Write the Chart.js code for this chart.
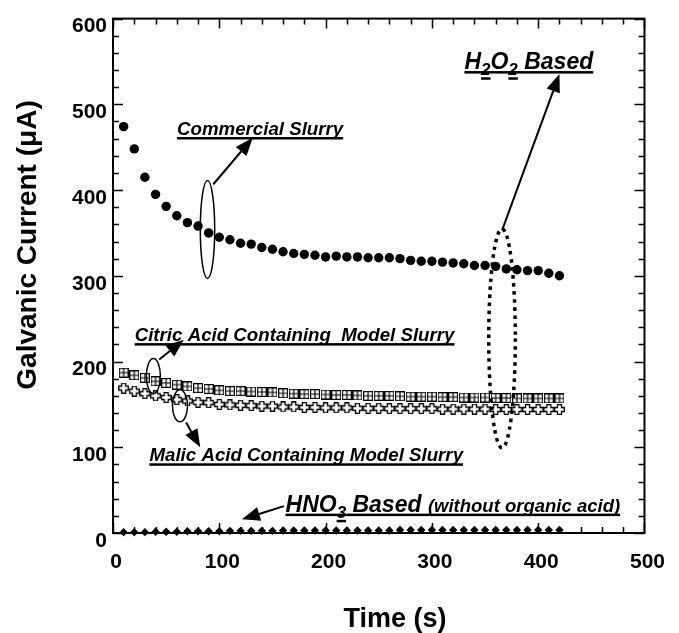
<!DOCTYPE html>
<html>
<head>
<meta charset="utf-8">
<script src="https://cdn.jsdelivr.net/npm/chart.js@4.4.1/dist/chart.umd.min.js"></script>
<style>
  html, body { margin: 0; padding: 0; background: #fff; }
</style>
</head>
<body>
<canvas id="galvanicChart" width="679" height="633"></canvas>
<script>
// time (s) of each reading
var times = [10, 20, 30, 40, 50, 60, 70, 80, 90, 100,
             110, 120, 130, 140, 150, 160, 170, 180, 190, 200,
             210, 220, 230, 240, 250, 260, 270, 280, 290, 300,
             310, 320, 330, 340, 350, 360, 370, 380, 390, 400,
             410, 420];

// galvanic current (uA)
var commercial = [474, 448, 415, 395, 381, 370, 362, 358, 350, 345,
                  342, 338, 337, 333, 331, 328, 326, 325, 324, 322,
                  323, 322, 322, 321, 321, 321, 320, 318, 317, 317,
                  316, 315, 314, 312, 312, 311, 308, 307, 306, 306,
                  303, 300];
var citric = [187, 184, 181, 177, 175, 173, 171, 169, 168, 166.5,
              165.5, 165.5, 165, 164.5, 164, 163, 162.5, 162, 162, 161.5,
              161, 161, 160.5, 160, 160, 160, 159.5, 159, 159, 159,
              158.5, 158.5, 158, 158, 158, 157.5, 157.5, 157, 157, 157,
              157, 157];
var malic = [169, 165.5, 162.5, 160, 158, 155.5, 154, 152.5, 152, 150,
             149.5, 149, 148.5, 148, 148, 147, 147, 146.5, 146.5, 146,
             146, 146, 145.5, 145.5, 145.5, 145, 145, 145, 145, 145,
             144.5, 144.5, 144.5, 144.5, 144.5, 144, 144, 144, 144, 144,
             144, 144];
var hno3 = [1, 1, 1, 1.5, 1.5, 1.5, 2, 2, 2, 2,
            2.5, 2.5, 2.5, 2.5, 2.5, 3, 3, 3, 3, 3,
            3, 3, 3, 3, 3, 3, 3.5, 3.5, 3.5, 3.5,
            3.5, 3.5, 3.5, 3.5, 3.5, 3.5, 3.5, 3.5, 3.5, 3.5,
            3.5, 3.5];

var xTicks = [0, 100, 200, 300, 400, 500];
var yTicks = [0, 100, 200, 300, 400, 500, 600];

var FONT = '"Liberation Sans", Arial, Helvetica, sans-serif';

function toPoints(ys) {
    return times.map(function (t, i) { return { x: t, y: ys[i] }; });
}

// square with a cross inside (citric acid)
function gridSquare() {
    var c = document.createElement('canvas');
    c.width = 10; c.height = 10;
    var g = c.getContext('2d');
    g.fillStyle = '#fff';
    g.fillRect(0, 0, 10, 10);
    g.strokeStyle = '#000';
    g.lineWidth = 1.2;
    g.strokeRect(0.6, 0.6, 8.8, 8.8);
    g.beginPath();
    g.moveTo(5, 0.6); g.lineTo(5, 9.4);
    g.moveTo(0.6, 5); g.lineTo(9.4, 5);
    g.stroke();
    return c;
}

// open plus sign (malic acid)
function openCross() {
    var c = document.createElement('canvas');
    c.width = 11; c.height = 11;
    var g = c.getContext('2d');
    g.beginPath();
    g.moveTo(3.5, 0.7); g.lineTo(7.5, 0.7); g.lineTo(7.5, 3.5); g.lineTo(10.3, 3.5);
    g.lineTo(10.3, 7.5); g.lineTo(7.5, 7.5); g.lineTo(7.5, 10.3); g.lineTo(3.5, 10.3);
    g.lineTo(3.5, 7.5); g.lineTo(0.7, 7.5); g.lineTo(0.7, 3.5); g.lineTo(3.5, 3.5);
    g.closePath();
    g.fillStyle = '#fff';
    g.fill();
    g.strokeStyle = '#000';
    g.lineWidth = 1.3;
    g.stroke();
    return c;
}

// text made of parts: [text, size, baseline shift]
function drawNote(ctx, x, y, parts) {
    ctx.save();
    ctx.fillStyle = '#000';
    ctx.textBaseline = 'alphabetic';
    ctx.textAlign = 'left';
    var cx = x;
    parts.forEach(function (p) {
        ctx.font = 'italic bold ' + p[1] + 'px ' + FONT;
        var w = ctx.measureText(p[0]).width;
        var dy = p[2] || 0;
        ctx.fillText(p[0], cx, y + dy);
        if (dy) {
            ctx.fillRect(cx, y + dy + 2, w, 2.5);
        }
        cx += w;
    });
    ctx.fillRect(x, y + 1.8, cx - x, 2.5);
    ctx.restore();
}

function arrow(ctx, x1, y1, x2, y2) {
    var a = Math.atan2(y2 - y1, x2 - x1);
    var len = 18, half = 7;
    var bx = x2 - len * Math.cos(a), by = y2 - len * Math.sin(a);
    ctx.save();
    ctx.strokeStyle = '#000';
    ctx.fillStyle = '#000';
    ctx.lineWidth = 2;
    ctx.beginPath();
    ctx.moveTo(x1, y1);
    ctx.lineTo(bx, by);
    ctx.stroke();
    ctx.beginPath();
    ctx.moveTo(x2, y2);
    ctx.lineTo(bx - half * Math.sin(a), by + half * Math.cos(a));
    ctx.lineTo(bx + half * Math.sin(a), by - half * Math.cos(a));
    ctx.closePath();
    ctx.fill();
    ctx.restore();
}

function ring(ctx, x, y, rx, ry, dotted) {
    ctx.save();
    ctx.strokeStyle = '#000';
    ctx.beginPath();
    ctx.ellipse(x, y, rx, ry, 0, 0, Math.PI * 2);
    if (dotted) {
        ctx.lineWidth = 3.5;
        ctx.setLineDash([3.5, 4.5]);
    } else {
        ctx.lineWidth = 1.5;
    }
    ctx.stroke();
    ctx.restore();
}

var framePlugin = {
    id: 'frame',
    afterDraw: function (chart) {
        var ctx = chart.ctx;
        var area = chart.chartArea;
        var sx = chart.scales.x, sy = chart.scales.y;
        var X = function (t) { return sx.getPixelForValue(t); };
        var Y = function (v) { return sy.getPixelForValue(v); };

        ctx.save();
        ctx.strokeStyle = '#000';
        ctx.lineWidth = 2;
        ctx.strokeRect(area.left, area.top, area.right - area.left, area.bottom - area.top);

        // inward ticks on all four sides, minor every 20
        ctx.lineWidth = 1.5;
        ctx.beginPath();
        var t, len;
        for (t = sx.min; t <= sx.max; t += 20) {
            len = (t % 100 === 0) ? 10 : 6;
            var px = Math.round(X(t)) + 0.5;
            ctx.moveTo(px, area.bottom); ctx.lineTo(px, area.bottom - len);
            ctx.moveTo(px, area.top); ctx.lineTo(px, area.top + len);
        }
        for (t = sy.min; t <= sy.max; t += 20) {
            len = (t % 100 === 0) ? 10 : 6;
            var py = Math.round(Y(t)) + 0.5;
            ctx.moveTo(area.left, py); ctx.lineTo(area.left + len, py);
            ctx.moveTo(area.right, py); ctx.lineTo(area.right - len, py);
        }
        ctx.stroke();

        // axis titles
        ctx.fillStyle = '#000';
        ctx.font = 'bold 27px ' + FONT;
        ctx.textAlign = 'center';
        ctx.textBaseline = 'alphabetic';
        ctx.fillText('Time (s)', 395, 627);
        ctx.translate(36, 245);
        ctx.rotate(-Math.PI / 2);
        ctx.font = 'bold 28px ' + FONT;
        ctx.fillText('Galvanic Current (\u03bcA)', 0, 0);
        ctx.restore();

        // rings and arrows
        ring(ctx, X(88.9), Y(354), 7.2, 49, false);
        ring(ctx, X(38), Y(183), 7, 17.5, false);
        ring(ctx, X(63), Y(148.3), 7.5, 16, false);
        ring(ctx, X(366), Y(227), 13.3, 109.5, true);

        arrow(ctx, X(94.4), Y(406.8), X(131.5), Y(461));
        arrow(ctx, X(43.5), Y(202.4), X(66.7), Y(225.5));
        arrow(ctx, X(68.8), Y(128.9), X(82.1), Y(100));
        arrow(ctx, X(160.8), Y(31.3), X(121.3), Y(15.9));
        arrow(ctx, X(366), Y(353), X(420), Y(535.5));

        // labels
        drawNote(ctx, X(60.2), Y(464), [['Commercial Slurry', 18.7]]);
        drawNote(ctx, X(20.4), Y(223.6), [['Citric Acid Containing  Model Slurry', 18.7]]);
        drawNote(ctx, X(34.3), Y(83.4), [['Malic Acid Containing Model Slurry', 18.7]]);
        drawNote(ctx, X(162.3), Y(24.7), [['HNO', 23], ['3', 17, 6], [' Based ', 23], ['(without organic acid)', 18.5]]);
        drawNote(ctx, X(330.6), Y(540.9), [['H', 23], ['2', 17, 6], ['O', 23], ['2', 17, 6], [' Based', 23]]);
    }
};

var data = {
    datasets: [{
        label: 'Commercial Slurry',
        data: toPoints(commercial),
        pointStyle: 'circle',
        pointRadius: 4.7,
        backgroundColor: '#000',
        borderColor: '#000',
        borderWidth: 0
    }, {
        label: 'Citric Acid Containing Model Slurry',
        data: toPoints(citric),
        pointStyle: gridSquare()
    }, {
        label: 'Malic Acid Containing Model Slurry',
        data: toPoints(malic),
        pointStyle: openCross()
    }, {
        label: 'HNO3 Based (without organic acid)',
        data: toPoints(hno3),
        pointStyle: 'rectRot',
        pointRadius: 4.2,
        backgroundColor: '#000',
        borderColor: '#000',
        borderWidth: 0,
        clip: false
    }]
};

var config = {
    type: 'scatter',
    data: data,
    options: {
        responsive: false,
        animation: false,
        devicePixelRatio: 1,
        layout: { padding: { top: 15, right: 26, left: 0, bottom: 0 } },
        plugins: {
            legend: { display: false },
            tooltip: { enabled: false }
        },
        scales: {
            x: {
                type: 'linear',
                min: xTicks[0],
                max: xTicks[xTicks.length - 1],
                afterBuildTicks: function (s) { s.ticks = xTicks.map(function (v) { return { value: v }; }); },
                afterFit: function (s) { s.height = 100; },
                grid: { display: false, drawTicks: false },
                border: { display: false },
                ticks: {
                    color: '#000',
                    padding: 17,
                    labelOffset: 3,
                    maxRotation: 0,
                    font: { family: FONT, size: 21, weight: 'bold' }
                }
            },
            y: {
                type: 'linear',
                min: yTicks[0],
                max: yTicks[yTicks.length - 1],
                afterBuildTicks: function (s) { s.ticks = yTicks.map(function (v) { return { value: v }; }); },
                afterFit: function (s) { s.width = 113; },
                grid: { display: false, drawTicks: false },
                border: { display: false },
                ticks: {
                    color: '#000',
                    padding: 6,
                    labelOffset: 8,
                    font: { family: FONT, size: 21, weight: 'bold' }
                }
            }
        }
    },
    plugins: [framePlugin]
};

var galvanicChart = new Chart(document.getElementById('galvanicChart'), config);
</script>
</body>
</html>
